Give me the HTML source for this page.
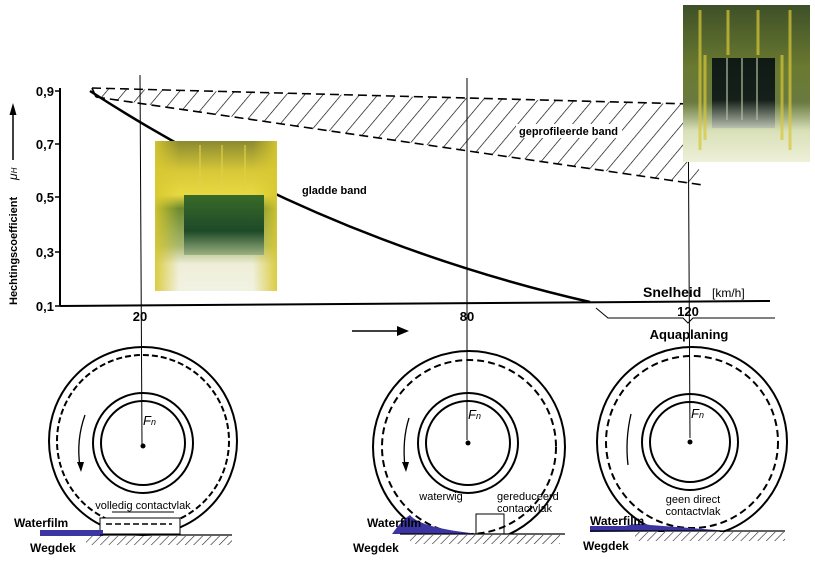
<!DOCTYPE html>
<html><head><meta charset="utf-8"><style>
html,body{margin:0;padding:0;background:#fff;}
svg{display:block;font-family:"Liberation Sans",sans-serif;}
</style></head><body>
<svg width="815" height="564" viewBox="0 0 815 564" xmlns="http://www.w3.org/2000/svg">
<defs>
<pattern id="h" width="14" height="14" patternUnits="userSpaceOnUse" patternTransform="rotate(40)">
<line x1="0" y1="0" x2="0" y2="14" stroke="#000" stroke-width="1.3"/>
</pattern>
<pattern id="g" width="6" height="10" patternUnits="userSpaceOnUse" patternTransform="rotate(45)">
<line x1="0" y1="0" x2="0" y2="10" stroke="#222" stroke-width="1.2"/>
</pattern>
<linearGradient id="p1" x1="0" y1="0" x2="0" y2="1">
<stop offset="0" stop-color="#8a8a30"/><stop offset="0.2" stop-color="#d8c838"/><stop offset="0.36" stop-color="#e8d840"/><stop offset="0.45" stop-color="#6a8a30"/><stop offset="0.7" stop-color="#a8b870"/><stop offset="0.82" stop-color="#eeeed8"/><stop offset="1" stop-color="#f2f2e4"/>
</linearGradient>
<linearGradient id="p1s" x1="0" y1="0" x2="1" y2="0">
<stop offset="0" stop-color="#d8c830" stop-opacity="0.9"/><stop offset="0.2" stop-color="#d8c830" stop-opacity="0"/><stop offset="0.8" stop-color="#d8c830" stop-opacity="0"/><stop offset="1" stop-color="#d8c830" stop-opacity="0.9"/>
</linearGradient>
<linearGradient id="t1" x1="0" y1="0" x2="0" y2="1">
<stop offset="0" stop-color="#3a6a28"/><stop offset="0.6" stop-color="#1e4a28"/><stop offset="1" stop-color="#9ab080"/>
</linearGradient>
<linearGradient id="p2" x1="0" y1="0" x2="0" y2="1">
<stop offset="0" stop-color="#3e5028"/><stop offset="0.4" stop-color="#6a7a30"/><stop offset="0.62" stop-color="#6a7a40"/><stop offset="0.8" stop-color="#d8e0b8"/><stop offset="1" stop-color="#eef0d8"/>
</linearGradient>
<linearGradient id="t2" x1="0" y1="0" x2="0" y2="1">
<stop offset="0" stop-color="#101a14"/><stop offset="0.6" stop-color="#15201a"/><stop offset="1" stop-color="#b8c0b0"/>
</linearGradient>
</defs>

<!-- axes -->
<line x1="60" y1="88" x2="60" y2="306" stroke="#000" stroke-width="2"/>
<line x1="60" y1="306" x2="770" y2="301" stroke="#000" stroke-width="2"/>
<g stroke="#000" stroke-width="1.5">
<line x1="55" y1="91" x2="60" y2="91"/><line x1="55" y1="144" x2="60" y2="144"/><line x1="55" y1="197" x2="60" y2="197"/><line x1="55" y1="252" x2="60" y2="252"/><line x1="55" y1="306" x2="60" y2="306"/>
</g>
<g font-size="13" font-weight="bold" text-anchor="end">
<text x="54" y="96">0,9</text><text x="54" y="149">0,7</text><text x="54" y="202">0,5</text><text x="54" y="257">0,3</text><text x="54" y="311">0,1</text>
</g>
<text transform="translate(17,305) rotate(-90)" font-size="11" font-weight="bold">Hechtingscoefficient</text>
<text transform="translate(17,180) rotate(-90)" font-size="12" font-style="italic">μ<tspan font-size="8">H</tspan></text>
<line x1="13" y1="160" x2="13" y2="112" stroke="#000" stroke-width="1.5"/>
<polygon points="13,103 9.5,115 16.5,115" fill="#000"/>

<!-- hatched band -->
<polygon points="92,88 683,104 703,185 96,97" fill="url(#h)"/>
<line x1="92" y1="88" x2="690" y2="104" stroke="#000" stroke-width="1.6" stroke-dasharray="9,5"/>
<line x1="96" y1="97" x2="703" y2="185" stroke="#000" stroke-width="1.6" stroke-dasharray="9,5"/>
<line x1="92" y1="88" x2="96" y2="97" stroke="#000" stroke-width="1.6"/>
<rect x="516" y="124" width="106" height="14" fill="#fff"/>
<text x="519" y="135" font-size="11" font-weight="bold">geprofileerde band</text>

<!-- smooth curve -->
<path d="M90,91 Q320,240 590,302" fill="none" stroke="#000" stroke-width="2.5"/>
<text x="302" y="194" font-size="11" font-weight="bold">gladde band</text>

<!-- vertical lines -->
<line x1="140" y1="75" x2="142" y2="446" stroke="#000" stroke-width="1"/>
<line x1="467" y1="78" x2="467" y2="440" stroke="#000" stroke-width="1"/>
<line x1="688" y1="78" x2="690" y2="438" stroke="#000" stroke-width="1"/>

<!-- photos -->
<rect x="155" y="141" width="122" height="150" fill="url(#p1)"/>
<rect x="155" y="141" width="122" height="150" fill="url(#p1s)"/>
<rect x="184" y="195" width="80" height="60" fill="url(#t1)"/>
<g stroke="#e0d048" stroke-width="2" opacity="0.6"><line x1="200" y1="145" x2="200" y2="190"/><line x1="222" y1="145" x2="222" y2="190"/><line x1="245" y1="145" x2="245" y2="190"/></g>
<rect x="683" y="5" width="127" height="157" fill="url(#p2)"/>
<g stroke="#d8c838" stroke-width="3" opacity="0.7"><line x1="700" y1="10" x2="700" y2="150"/><line x1="790" y1="10" x2="790" y2="150"/><line x1="728" y1="10" x2="728" y2="55"/><line x1="758" y1="10" x2="758" y2="55"/><line x1="705" y1="55" x2="705" y2="140"/><line x1="782" y1="55" x2="782" y2="140"/></g>
<rect x="712" y="58" width="63" height="70" fill="url(#t2)"/>
<g stroke="#b8c0a0" stroke-width="1.5" opacity="0.8"><line x1="727" y1="58" x2="727" y2="120"/><line x1="742" y1="58" x2="742" y2="120"/><line x1="757" y1="58" x2="757" y2="120"/></g>

<!-- x axis labels -->
<text x="643" y="297" font-size="14" font-weight="bold">Snelheid</text>
<text x="712" y="297" font-size="12">[km/h]</text>
<polyline points="596,308 608,318 683,318 688,323 693,318 775,318" fill="none" stroke="#000" stroke-width="1"/>
<g font-size="13" font-weight="bold" text-anchor="middle">
<text x="140" y="321">20</text><text x="467" y="321">80</text><text x="688" y="316">120</text>
</g>
<text x="689" y="339" font-size="13" font-weight="bold" text-anchor="middle">Aquaplaning</text>
<line x1="352" y1="331" x2="400" y2="331" stroke="#000" stroke-width="1.5"/>
<polygon points="409,331 397,326 397,336" fill="#000"/>

<!-- wheel 1 -->
<g fill="none" stroke="#000">
<circle cx="143" cy="441" r="94" stroke-width="2"/>
<circle cx="143" cy="441" r="86" stroke-width="2" stroke-dasharray="6,3"/>
<circle cx="143" cy="443" r="50" stroke-width="2"/>
<circle cx="143" cy="443" r="42" stroke-width="2"/>
</g>
<rect x="100" y="518" width="80" height="16" fill="#fff" stroke="#000" stroke-width="1"/>
<line x1="106" y1="524" x2="172" y2="524" stroke="#000" stroke-width="1.5" stroke-dasharray="6,3"/>
<line x1="112" y1="512" x2="174" y2="512" stroke="#000" stroke-width="1"/>
<text x="143" y="509" font-size="11" text-anchor="middle">volledig contactvlak</text>
<rect x="40" y="530" width="63" height="6" fill="#3a35a0"/>
<line x1="100" y1="535" x2="232" y2="535" stroke="#000" stroke-width="1.3"/>
<rect x="86" y="536" width="146" height="9" fill="url(#g)"/>
<text x="143" y="425" font-size="13" font-style="italic">F<tspan font-size="9">n</tspan></text>
<circle cx="143" cy="446" r="2.5" fill="#000"/>
<path d="M85,415 Q76,440 80,467" fill="none" stroke="#000" stroke-width="1.3"/>
<polygon points="81,472 77,462 84,462" fill="#000"/>
<text x="14" y="527" font-size="12" font-weight="bold">Waterfilm</text>
<text x="30" y="552" font-size="12" font-weight="bold">Wegdek</text>

<!-- wheel 2 -->
<g fill="none" stroke="#000">
<circle cx="469" cy="447" r="96" stroke-width="2"/>
<circle cx="469" cy="447" r="87" stroke-width="2" stroke-dasharray="7,4"/>
<circle cx="468" cy="443" r="50" stroke-width="2"/>
<circle cx="468" cy="443" r="42" stroke-width="2"/>
</g>
<rect x="400" y="534" width="140" height="12" fill="#fff"/>
<rect x="476" y="514" width="28" height="20" fill="none" stroke="#000" stroke-width="1"/>
<path d="M368,534 L392,534 Q402,520 410,515 Q420,528 480,534 Z" fill="#3a35a0"/>
<line x1="400" y1="534" x2="565" y2="534" stroke="#000" stroke-width="1.3"/>
<rect x="410" y="535" width="150" height="9" fill="url(#g)"/>
<text x="441" y="500" font-size="11" text-anchor="middle">waterwig</text>
<text x="497" y="500" font-size="11">gereduceerd</text>
<text x="497" y="512" font-size="11">contactvlak</text>
<text x="468" y="419" font-size="13" font-style="italic">F<tspan font-size="9">n</tspan></text>
<circle cx="468" cy="443" r="2.5" fill="#000"/>
<path d="M409,418 Q402,440 405,467" fill="none" stroke="#000" stroke-width="1.3"/>
<polygon points="406,472 402,462 409,462" fill="#000"/>
<text x="367" y="527" font-size="12" font-weight="bold">Waterfilm</text>
<text x="353" y="552" font-size="12" font-weight="bold">Wegdek</text>

<!-- wheel 3 -->
<g fill="none" stroke="#000">
<circle cx="692" cy="442" r="95" stroke-width="2"/>
<circle cx="692" cy="442" r="86" stroke-width="2" stroke-dasharray="7,4"/>
<circle cx="690" cy="442" r="48" stroke-width="2"/>
<circle cx="690" cy="442" r="40" stroke-width="2"/>
</g>
<rect x="600" y="532" width="190" height="12" fill="#fff"/>
<path d="M590,526 L625,526 Q640,522 650,525 L730,531 L590,532 Z" fill="#3a35a0"/>
<line x1="590" y1="531" x2="785" y2="531" stroke="#000" stroke-width="1.3"/>
<rect x="635" y="532" width="150" height="9" fill="url(#g)"/>
<text x="693" y="503" font-size="11" text-anchor="middle">geen direct</text>
<text x="693" y="515" font-size="11" text-anchor="middle">contactvlak</text>
<text x="691" y="418" font-size="13" font-style="italic">F<tspan font-size="9">n</tspan></text>
<circle cx="690" cy="442" r="2.5" fill="#000"/>
<path d="M631,414 Q625,440 628,465" fill="none" stroke="#000" stroke-width="1.3"/>
<text x="590" y="525" font-size="12" font-weight="bold">Waterfilm</text>
<text x="583" y="550" font-size="12" font-weight="bold">Wegdek</text>
</svg>
</body></html>
